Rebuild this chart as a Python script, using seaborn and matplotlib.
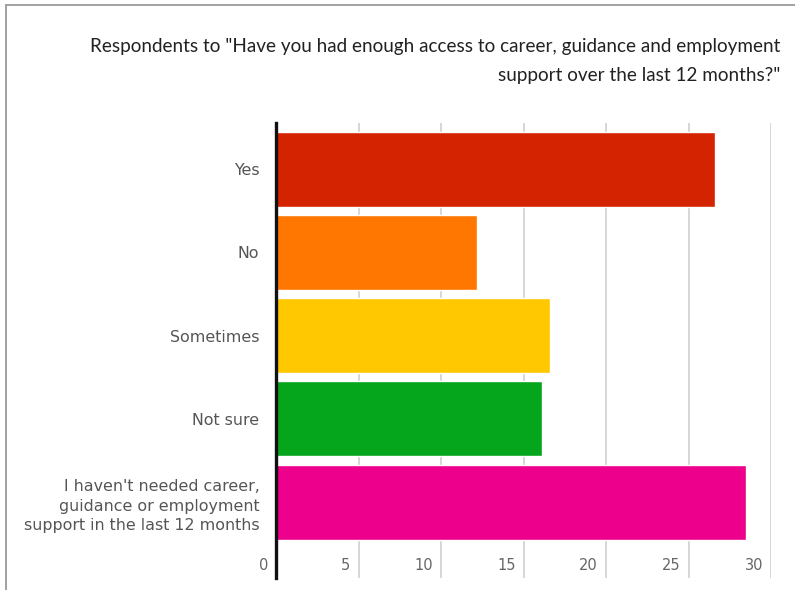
import matplotlib
matplotlib.use("Agg")
import matplotlib.pyplot as plt
import matplotlib.transforms as mtransforms
from matplotlib.lines import Line2D
import seaborn as sns
import pandas as pd

# Survey answers and share of respondents
answers = [
    "Yes",
    "No",
    "Sometimes",
    "Not sure",
    "I haven't needed career,\nguidance or employment\nsupport in the last 12 months",
]
shares = [26.6, 12.2, 16.6, 16.1, 28.5]
bar_colors = ["#D42300", "#FF7700", "#FFC800", "#05A51C", "#EC008C"]
x_ticks = [0, 5, 10, 15, 20, 25, 30]
title_lines = [
    "Respondents to \"Have you had enough access to career, guidance and employment",
    "support over the last 12 months?\"",
]

df = pd.DataFrame({"answer": answers, "share": shares})

sns.set_theme(style="white")
plt.rcParams["font.family"] = ["DejaVu Sans"]

W, H = 795, 590
fig = plt.figure(figsize=(W / 100, H / 100), dpi=100)
fig.patch.set_facecolor("white")

# axes box in pixel coordinates: x 276..771, y 123..578 (from top)
ax = fig.add_axes([276 / W, 1 - 578 / H, (771 - 276) / W, (578 - 123) / H])

sns.barplot(data=df, x="share", y="answer", hue="answer",
            palette=bar_colors, legend=False, width=0.9,
            orient="h", saturation=1, ax=ax, zorder=3)

ax.set_xlim(0, 30)
ax.set_ylim(4.91, -0.553)
ax.set_xticks(x_ticks)
ax.set_xticklabels([str(t) for t in x_ticks])
ax.set_xlabel("")
ax.set_ylabel("")

ax.grid(axis="x", color="#cfcfcf", linewidth=1.2, zorder=0)
ax.grid(axis="y", visible=False)
ax.set_axisbelow(True)

for side in ["top", "right", "bottom"]:
    ax.spines[side].set_visible(False)
ax.spines["left"].set_color("#111111")
ax.spines["left"].set_linewidth(2.4)
ax.spines["left"].set_zorder(5)

ax.tick_params(axis="y", length=0, pad=12, labelsize=11.4, labelcolor="#555555")
ax.tick_params(axis="x", length=0, pad=0, labelsize=10.5, labelcolor="#666666")
for lab in ax.get_yticklabels():
    lab.set_multialignment("right")
    lab.set_linespacing(1.4)

# x tick labels sit inside the plot, just left of their grid line
offset = mtransforms.ScaledTranslation(-8 / 100, 13 / 100, fig.dpi_scale_trans)
for lab in ax.get_xticklabels():
    lab.set_ha("right")
    lab.set_va("center")
    lab.set_transform(lab.get_transform() + offset)

# two-line right-aligned title
for line, base_y in zip(title_lines, [52, 81]):
    fig.text(780 / W, 1 - base_y / H, line, ha="right", va="baseline",
             fontsize=13.6, color="#222222", family=["Lato", "DejaVu Sans"])

# frame border (top and left)
fig.add_artist(Line2D([6 / W, 1], [1 - 5 / H, 1 - 5 / H], color="#9a9a9a",
                      linewidth=1.3, transform=fig.transFigure))
fig.add_artist(Line2D([6 / W, 6 / W], [0, 1 - 5 / H], color="#9a9a9a",
                      linewidth=1.3, transform=fig.transFigure))

fig.savefig("out.png", dpi=100, facecolor="white")
